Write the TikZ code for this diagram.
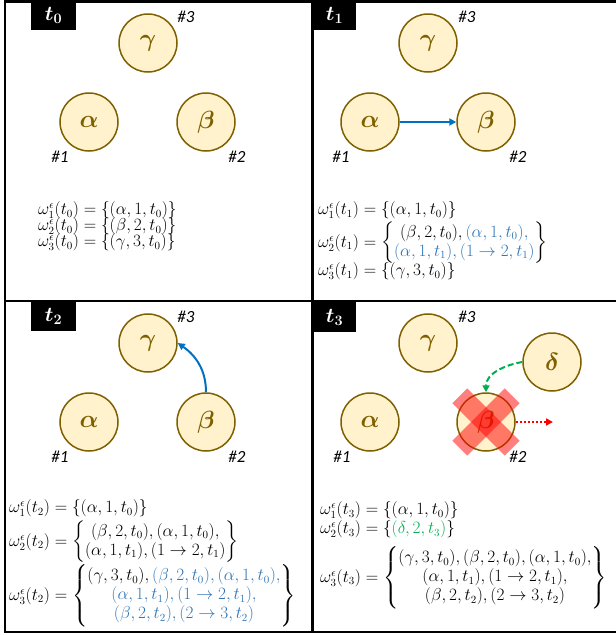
\documentclass[tikz,border=0pt]{standalone}
\usepackage{amsmath}
\usepackage{bm}
\usepackage{fontspec}
\newfontfamily\hashfont{Carlito}
\usetikzlibrary{arrows.meta}
\definecolor{agentline}{HTML}{7F6000}
\definecolor{agentfill}{HTML}{FFF2CC}
\definecolor{arrowblue}{HTML}{0070C0}
\definecolor{textblue}{HTML}{2E75B6}
\definecolor{textgreen}{HTML}{00B050}
\definecolor{crossred}{HTML}{FF0000}
\newcommand{\wv}[2]{\omega^{\raisebox{-2.5pt}{$\scriptstyle\epsilon$}}_{\raisebox{2pt}{$\scriptstyle #1$}}(t_{#2})}
\newcommand{\tb}[1]{{\color{textblue}#1}}
\begin{document}
\begin{tikzpicture}[x=1pt,y=1pt,
 agent/.style={circle,draw=agentline,fill=agentfill,line width=1.5pt,minimum size=58pt,inner sep=0pt,text=agentline,font=\fontsize{25}{25}\selectfont},
 hashlbl/.style={font=\hashfont\itshape\fontsize{17}{17}\selectfont,inner sep=0pt},
 tlabel/.style={fill=black,text=white,inner sep=0pt,font=\fontsize{20}{20}\selectfont},
 eq/.style={anchor=west,inner sep=0pt,font=\fontsize{16}{19}\selectfont},
 frame/.style={line width=2.5pt},
 bluearrow/.style={arrowblue,line width=2pt,-{Triangle[length=7pt,width=7pt]}},
 xbar/.style={rectangle,fill=crossred,fill opacity=0.5,minimum width=74pt,minimum height=21pt,inner sep=0pt}]
\useasboundingbox (0,0) rectangle (616,-635);
% frames
\draw[frame] (5,-1.5) rectangle (625,-632);
\draw[frame] (312.5,-1.5) -- (312.5,-632);
\draw[frame] (5,-301) -- (625,-301);
% time labels
\node[tlabel,minimum width=45pt,minimum height=30pt] (L0) at (53.5,-15) {$\bm{t_0}$};
\node[tlabel,minimum width=43pt,minimum height=30pt] (L1) at (334.5,-15) {$\bm{t_1}$};
\node[tlabel,minimum width=45pt,minimum height=29pt] (L2) at (53.5,-316.5) {$\bm{t_2}$};
\node[tlabel,minimum width=43pt,minimum height=30pt] (L3) at (334.5,-317) {$\bm{t_3}$};
% panel t0
\node[agent] (g0) at (148,-43) {$\bm{\gamma}$};
\node[agent] (a0) at (89,-122) {$\bm{\alpha}$};
\node[agent] (b0) at (206,-122) {$\bm{\beta}$};
\node[hashlbl] (h03) at (186,-17) {\#3};
\node[hashlbl] (h01) at (60,-157) {\#1};
\node[hashlbl] (h02) at (237,-157) {\#2};
\node[eq] (e01) at (38,-211) {$\wv{1}{0}=\{(\alpha,1,t_0)\}$};
\node[eq] (e02) at (38,-227) {$\wv{2}{0}=\{(\beta,2,t_0)\}$};
\node[eq] (e03) at (38,-243) {$\wv{3}{0}=\{(\gamma,3,t_0)\}$};
% panel t1
\node[agent] (g1) at (428,-43) {$\bm{\gamma}$};
\node[agent] (a1) at (370,-122) {$\bm{\alpha}$};
\node[agent] (b1) at (486,-122) {$\bm{\beta}$};
\node[hashlbl] (h13) at (467,-17) {\#3};
\node[hashlbl] (h11) at (341,-157) {\#1};
\node[hashlbl] (h12) at (518,-157) {\#2};
\draw[bluearrow] (a1) -- (b1);
\node[eq] (e11) at (318,-211) {$\wv{1}{1}=\{(\alpha,1,t_0)\}$};
\node[eq] (e12) at (318,-243) {$\wv{2}{1}=\left\{\begin{matrix}(\beta,2,t_0),\tb{(\alpha,1,t_0),}\\ \tb{(\alpha,1,t_1),(1\rightarrow2,t_1)}\end{matrix}\right\}$};
\node[eq] (e13) at (318,-272) {$\wv{3}{1}=\{(\gamma,3,t_0)\}$};
% panel t2
\node[agent] (g2) at (148,-343) {$\bm{\gamma}$};
\node[agent] (a2) at (89,-422) {$\bm{\alpha}$};
\node[agent] (b2) at (206,-422) {$\bm{\beta}$};
\node[hashlbl] (h23) at (186,-317) {\#3};
\node[hashlbl] (h21) at (60,-457) {\#1};
\node[hashlbl] (h22) at (237,-457) {\#2};
\draw[bluearrow] (b2.north) to[out=90,in=-35] (g2.east);
\node[eq] (e21) at (9,-509) {$\wv{1}{2}=\{(\alpha,1,t_0)\}$};
\node[eq] (e22) at (9,-542) {$\wv{2}{2}=\left\{\begin{matrix}(\beta,2,t_0),(\alpha,1,t_0),\\(\alpha,1,t_1),(1\rightarrow2,t_1)\end{matrix}\right\}$};
\node[eq] (e23) at (9,-596) {$\wv{3}{2}=\left\{\begin{matrix}(\gamma,3,t_0),\tb{(\beta,2,t_0),(\alpha,1,t_0),}\\ \tb{(\alpha,1,t_1),(1\rightarrow2,t_1),}\\ \tb{(\beta,2,t_2),(2\rightarrow3,t_2)}\end{matrix}\right\}$};
% panel t3
\node[agent] (g3) at (428,-343) {$\bm{\gamma}$};
\node[agent] (a3) at (370,-422) {$\bm{\alpha}$};
\node[agent] (b3) at (486,-422) {$\bm{\beta}$};
\node[agent] (d3) at (552,-362) {$\bm{\delta}$};
\node[hashlbl] (h33) at (467,-317) {\#3};
\node[hashlbl] (h31) at (342,-457) {\#1};
\node[hashlbl] (h32) at (518,-457) {\#2};
\node[xbar,rotate=45] (x1) at (b3) {};
\node[xbar,rotate=-45] (x2) at (b3) {};
\draw[textgreen,line width=2pt,dash pattern=on 6pt off 3pt,-{Triangle[length=7pt,width=7pt]}] (d3.west) to[out=190,in=90] (b3.north);
\coordinate (r3) at (553,-422);
\draw[crossred,line width=2pt,dash pattern=on 2pt off 2pt,-{Triangle[length=7pt,width=7pt]}] (b3.east) -- (r3);
\node[eq] (e31) at (320,-511) {$\wv{1}{3}=\{(\alpha,1,t_0)\}$};
\node[eq] (e32) at (320,-530) {$\wv{2}{3}=\{{\color{textgreen}(\delta,2,t_3)}\}$};
\node[eq] (e33) at (320,-578) {$\wv{3}{3}=\left\{\begin{matrix}(\gamma,3,t_0),(\beta,2,t_0),(\alpha,1,t_0),\\(\alpha,1,t_1),(1\rightarrow2,t_1),\\(\beta,2,t_2),(2\rightarrow3,t_2)\end{matrix}\right\}$};
\end{tikzpicture}
\end{document}
